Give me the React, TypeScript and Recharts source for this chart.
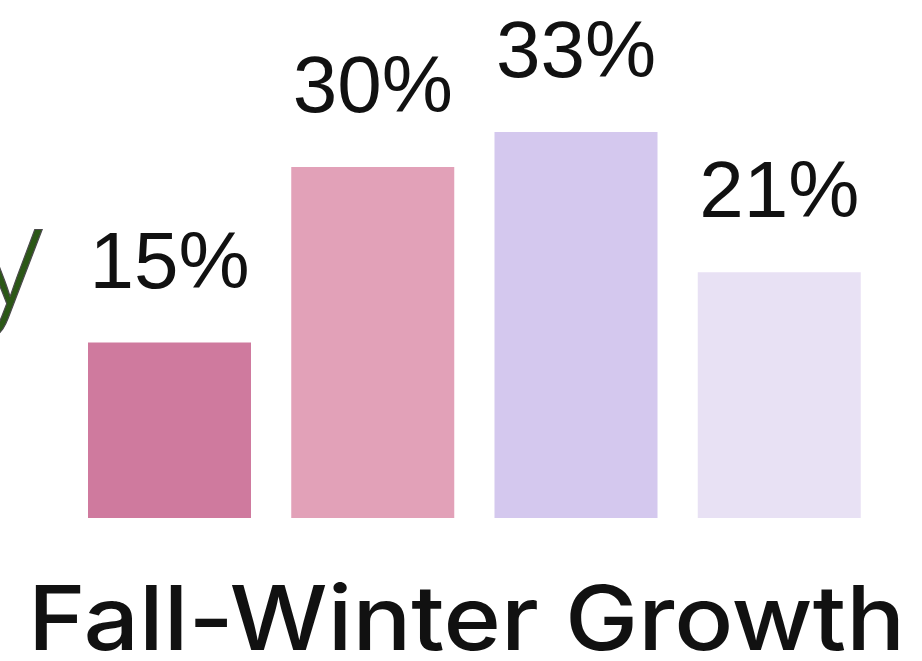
import { BarChart, Bar, XAxis, YAxis, Cell, LabelList } from 'recharts';

const seasons = ['Fall', 'Early Winter', 'Mid Winter', 'Late Winter'];
const growth = [15, 30, 33, 21];
const barColors = ['#cf7a9e', '#e2a1b8', '#d4c8ee', '#e8e1f4'];

const data = seasons.map((season, i) => ({ season, growth: growth[i] }));

const PctLabel = (props: any) => {
  const { x, y, width, value } = props;
  return (
    <text
      x={x + width / 2}
      y={y - 55}
      textAnchor="middle"
      fontFamily="'Liberation Sans', Arial, sans-serif"
      fontSize={80}
      fill="#111"
    >
      {value}%
    </text>
  );
};

const FallWinterGrowth = () => (
  <div style={{ position: 'absolute', left: 0, top: 0, width: 922, height: 661, background: '#fff' }}>
    <BarChart
      width={922}
      height={661}
      data={data}
      margin={{ top: 50, right: 41, left: 68, bottom: 143 }}
    >
      <XAxis dataKey="season" hide />
      <YAxis domain={[0, 40]} hide />
      <Bar dataKey="growth" barSize={163} isAnimationActive={false}>
        {data.map((d, i) => (
          <Cell key={d.season} fill={barColors[i]} />
        ))}
        <LabelList dataKey="growth" content={PctLabel} />
      </Bar>
    </BarChart>
    {/* cropped title fragment at the left edge and the bottom caption */}
    <svg width={922} height={661} style={{ position: 'absolute', left: 0, top: 0, pointerEvents: 'none' }}>
      <text
        x={42}
        y={304}
        textAnchor="end"
        fontFamily="'Open Sans', sans-serif"
        fontWeight={300}
        fontSize={140}
        fill="#2b5716"
        stroke="#4a4a4a"
        strokeWidth={1.2}
      >
        y
      </text>
      <text
        x={28}
        y={650}
        fontFamily="Inter, sans-serif"
        fontWeight={500}
        fontSize={89}
        fill="#111"
        textLength={877}
        lengthAdjust="spacingAndGlyphs"
      >
        Fall-Winter Growth
      </text>
    </svg>
  </div>
);

export default FallWinterGrowth;
